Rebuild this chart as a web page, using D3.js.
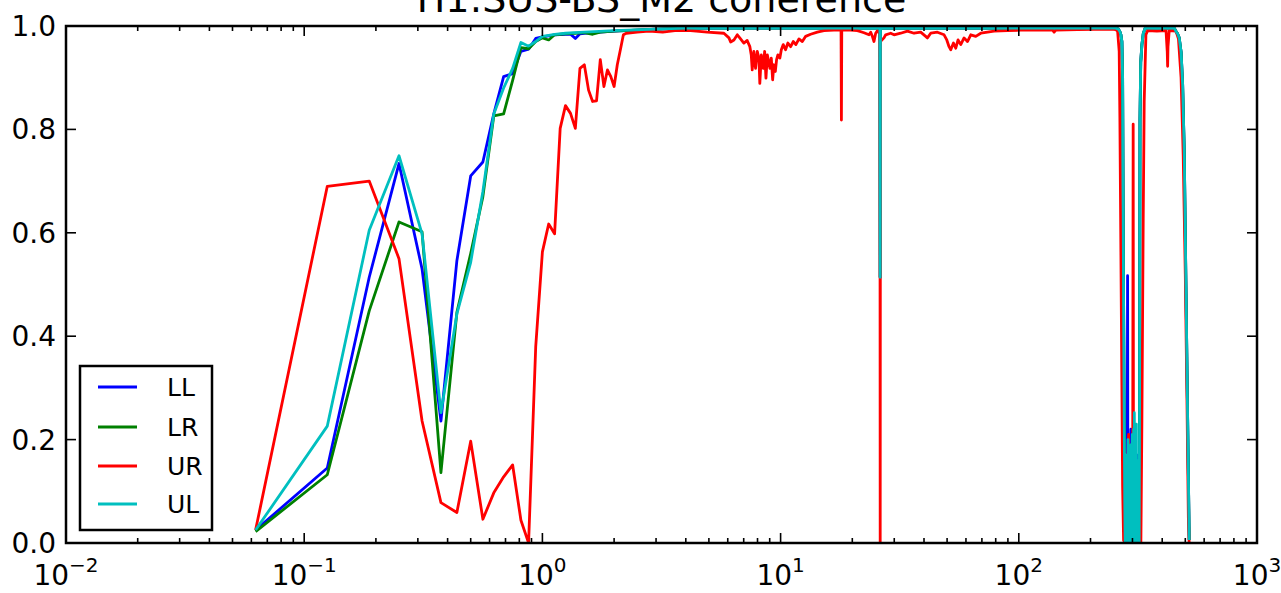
<!DOCTYPE html>
<html>
<head>
<meta charset="utf-8">
<script src="https://cdn.jsdelivr.net/npm/d3@7"></script>
<style>
  html, body { margin: 0; padding: 0; background: #ffffff; }
  svg { display: block; }
  text { font-family: "DejaVu Sans", sans-serif; fill: #000; }
</style>
</head>
<body>
<svg id="chart" width="1281" height="593"></svg>
<script>
// ---------- data (frequency in Hz, coherence) ----------
const titleText = "H1:SUS-BS_M2 coherence";
const seriesNames = ["LL", "LR", "UR", "UL"];
const seriesColors = ["#0000ff", "#008000", "#ff0000", "#00bfbf"];
const xTickExponents = [-2, -1, 0, 1, 2, 3];
const yTickValues = [0.0, 0.2, 0.4, 0.6, 0.8, 1.0];

const llData = [
  [0.0625,0.025],[0.125,0.145],[0.1875,0.514],[0.25,0.734],[0.3125,0.530],[0.375,0.236],
  [0.4375,0.546],[0.5,0.710],[0.5625,0.737],[0.625,0.83],[0.6875,0.902],[0.75,0.908],
  [0.8125,0.951],[0.875,0.955],[0.9375,0.976],[1.0,0.979],[1.0625,0.981],[1.125,0.983],
  [1.25,0.984],[1.3125,0.984],[1.375,0.976],[1.4375,0.985],[1.5,0.986],[1.75,0.988],
  [2.0,0.990],[2.5,0.992],[3.0,0.994],[4.0,0.996],
  [26.125,0.996],[26.1875,0.514],[26.25,0.996],
  [255,0.996],[262,0.994],[265.7,0.989],[268.3,0.983],[270.9,0.97],[272.8,0.9],[274.5,0.6],
  [276.5,0.3],[278.5,0.08],[279.7,0.0],[283,0.1],[285,0.02],[286.2,0.517],[287.2,0.0],
  [290,0.15],[292,0.03],[295.5,0.22],[298,0.05],[302,0.18],[305,0.0],[310,0.1],[314,0.0],
  [315.2,0.17],[316.2,0.0],[320.2,0.0],[321.5,0.3],[322.7,0.82],[325,0.93],[328.7,0.964],
  [333,0.985],[339.4,0.996],[449.3,0.996],[456.8,0.99],[464,0.985],[471.5,0.977],[480,0.95],
  [487.4,0.886],[495,0.757],[503.2,0.498],[511.5,0.239],[519.4,0.006]
];

const lrData = [
  [0.0625,0.022],[0.125,0.132],[0.1875,0.449],[0.25,0.621],[0.3125,0.602],[0.375,0.136],
  [0.4375,0.446],[0.5,0.56],[0.5625,0.67],[0.625,0.826],[0.6875,0.830],[0.75,0.895],
  [0.8125,0.958],[0.875,0.956],[0.9375,0.970],[1.0,0.977],[1.0625,0.973],[1.125,0.983],
  [1.25,0.985],[1.375,0.986],[1.5,0.987],[1.625,0.984],[1.75,0.988],[2.0,0.990],
  [3.0,0.994],[4.0,0.996],
  [26.125,0.996],[26.1875,0.514],[26.25,0.996],
  [255,0.996],[262,0.994],[265.7,0.989],[268.3,0.983],[270.9,0.97],[272.8,0.9],[274.5,0.6],
  [276.5,0.3],[278.5,0.08],[279.7,0.0],[285,0.12],[290,0.0],[296,0.15],[302,0.02],
  [308,0.14],[314,0.0],[320.2,0.0],[321.5,0.3],[322.7,0.82],[325,0.93],[328.7,0.964],
  [333,0.985],[339.4,0.996],[449.3,0.996],[456.8,0.99],[464,0.985],[471.5,0.977],[480,0.95],
  [487.4,0.886],[495,0.757],[503.2,0.498],[511.5,0.239],[519.4,0.006]
];

const urData = [
  [0.0625,0.025],[0.125,0.69],[0.1875,0.70],[0.25,0.55],[0.3125,0.236],[0.375,0.078],
  [0.4375,0.059],[0.5,0.197],[0.5625,0.046],[0.625,0.097],[0.6875,0.128],[0.75,0.151],
  [0.8125,0.044],[0.875,0.0],[0.9375,0.38],[1.0,0.563],[1.0625,0.617],[1.125,0.598],
  [1.1875,0.802],[1.25,0.846],[1.3125,0.831],[1.375,0.802],[1.4375,0.918],[1.5,0.925],
  [1.5625,0.876],[1.625,0.854],[1.6875,0.855],[1.75,0.935],[1.8125,0.883],[1.875,0.915],
  [1.9375,0.902],[2.0,0.883],[2.0625,0.925],[2.125,0.954],[2.1875,0.983],[2.25,0.986],
  [2.5,0.988],[2.8,0.990],[3.2,0.988],[3.6,0.991],[4.19,0.991],[4.92,0.988],[5.78,0.986],
  [6.07,0.977],[6.17,0.969],[6.37,0.973],[6.58,0.983],[6.79,0.975],[7.01,0.967],[7.24,0.972],
  [7.43,0.960],[7.53,0.944],[7.60,0.915],[7.72,0.951],[7.85,0.918],[7.98,0.951],[8.11,0.938],
  [8.18,0.889],[8.30,0.944],[8.46,0.918],[8.57,0.951],[8.68,0.899],[8.80,0.944],[8.91,0.931],
  [9.02,0.918],[9.14,0.938],[9.26,0.896],[9.37,0.925],[9.50,0.912],[9.62,0.935],[9.74,0.944],
  [9.93,0.938],[10.07,0.954],[10.26,0.964],[10.49,0.954],[10.73,0.967],[11.02,0.960],
  [11.30,0.970],[11.59,0.964],[11.94,0.975],[12.34,0.970],[12.74,0.980],[13.37,0.984],
  [14.26,0.988],[15.20,0.991],[16.75,0.992],[17.9375,0.992],[18.0,0.818],[18.0625,0.992],
  [19.68,0.992],[21.01,0.991],[22.39,0.987],[23.5,0.983],[23.89,0.988],[24.28,0.980],
  [24.66,0.970],[25.07,0.986],[25.48,0.991],[26.125,0.985],[26.1875,0.0],[26.25,0.97],
  [27.16,0.977],[27.62,0.983],[28.98,0.986],[29.94,0.983],[31.93,0.986],[34.07,0.990],
  [36.33,0.986],[38.74,0.988],[40.66,0.980],[41.34,0.977],[42.68,0.986],[45.53,0.988],
  [48.56,0.983],[49.85,0.973],[50.96,0.960],[51.81,0.954],[53.17,0.967],[54.37,0.957],
  [55.59,0.973],[57.06,0.964],[58.91,0.977],[60.88,0.970],[62.86,0.983],[65.98,0.980],
  [69.25,0.986],[73.88,0.988],[78.74,0.990],[89.65,0.991],[101.9,0.992],[138.6,0.992],
  [140.7,0.988],[143.0,0.992],[176.4,0.993],[243.6,0.994],[255.6,0.993],[259.9,0.990],
  [263.9,0.951],[265.7,0.821],[268.3,0.563],[270.9,0.304],[272.8,0.110],[275.4,0.005],
  [282,0.0],[285,0.08],[287,0.16],[289,0.21],[291,0.15],[293,0.17],[295.5,0.12],
  [298.3,0.14],[300.5,0.05],[302.1,0.81],[303,0.1],[305,0.02],[310,0.0],[315,0.03],
  [320,0.0],[325.5,0.0],[328.7,0.239],[332.9,0.627],[336.1,0.854],[341.7,0.983],
  [347.4,0.991],[380,0.990],[415,0.991],[420,0.95],[421.5,0.922],[423,0.96],[428,0.991],
  [456.8,0.99],[468,0.975],[480,0.9],[490,0.75],[500,0.52],[508,0.28],[515,0.05],[519,0.0]
];

const ulData = [
  [0.0625,0.025],[0.125,0.226],[0.1875,0.605],[0.25,0.749],[0.3125,0.598],[0.375,0.252],
  [0.4375,0.443],[0.5,0.543],[0.5625,0.68],[0.625,0.83],[0.6875,0.88],[0.75,0.918],
  [0.8125,0.968],[0.875,0.961],[0.9375,0.970],[1.0,0.980],[1.0625,0.982],[1.125,0.984],
  [1.25,0.986],[1.5,0.988],[2.0,0.991],[3.0,0.994],[4.0,0.996],
  [26.125,0.996],[26.1875,0.514],[26.25,0.996],
  [255,0.996],[262,0.994],[265.7,0.989],[268.3,0.983],[270.9,0.97],[272.8,0.9],[274.5,0.6],
  [276.5,0.3],[278.5,0.08],[279.7,0.0],
  [280.5,0.0],[281.5,0.17],[282.5,0.02],[283.5,0.12],[284.5,0.0],[285.5,0.155],[286.5,0.03],
  [287.5,0.2],[288.5,0.0],[289.5,0.14],[290.5,0.02],[291.5,0.18],[292.5,0.0],[293.5,0.1],
  [294.5,0.01],[295.5,0.19],[296.5,0.0],[297.5,0.13],[298.5,0.03],[299.5,0.21],[300.5,0.0],
  [301.5,0.15],[302.5,0.02],[303.5,0.22],[304.5,0.0],[305.5,0.252],[306.5,0.01],[307.5,0.2],
  [308.5,0.0],[309.5,0.17],[310.5,0.02],[311.5,0.23],[312.5,0.0],[313.5,0.14],[314.5,0.01],
  [315.5,0.16],[316.5,0.0],[317.5,0.12],[318.5,0.02],[319.5,0.09],[320.2,0.0],
  [321.5,0.3],[322.7,0.82],[325,0.93],[328.7,0.964],[333,0.985],[339.4,0.996],
  [449.3,0.996],[456.8,0.99],[464,0.985],[471.5,0.977],[480,0.95],[487.4,0.886],
  [495,0.757],[503.2,0.498],[511.5,0.239],[519.4,0.006]
];

const allSeries = [llData, lrData, urData, ulData];

// ---------- layout ----------
const plot = { left: 66, right: 1257, top: 26, bottom: 543 };
const svg = d3.select("#chart");

const x = d3.scaleLog().domain([0.01, 1000]).range([plot.left, plot.right]);
const y = d3.scaleLinear().domain([0, 1]).range([plot.bottom, plot.top]);

svg.append("defs").append("clipPath").attr("id", "clip")
  .append("rect")
  .attr("x", plot.left).attr("y", plot.top)
  .attr("width", plot.right - plot.left).attr("height", plot.bottom - plot.top);

// ---------- lines ----------
const line = d3.line().x(d => x(d[0])).y(d => y(d[1]));
const lines = svg.append("g").attr("clip-path", "url(#clip)");
allSeries.forEach((data, i) => {
  lines.append("path")
    .datum(data)
    .attr("d", line)
    .attr("fill", "none")
    .attr("stroke", seriesColors[i])
    .attr("stroke-width", 2.8)
    .attr("stroke-linejoin", "round")
    .attr("stroke-linecap", "butt");
});

// ---------- axes (ticks inside, on all four sides) ----------
const majorLen = 10, minorLen = 5;
const tickG = svg.append("g").attr("stroke", "#000").attr("stroke-width", 1.6);

const minorTicks = [];
xTickExponents.slice(0, -1).forEach(e => {
  for (let m = 2; m <= 9; m++) minorTicks.push(m * Math.pow(10, e));
});
const majorTicks = xTickExponents.map(e => Math.pow(10, e));

[[majorTicks, majorLen], [minorTicks, minorLen]].forEach(([vals, len]) => {
  tickG.selectAll(null).data(vals).enter().append("line")
    .attr("x1", d => x(d)).attr("x2", d => x(d))
    .attr("y1", plot.bottom).attr("y2", plot.bottom - len);
  tickG.selectAll(null).data(vals).enter().append("line")
    .attr("x1", d => x(d)).attr("x2", d => x(d))
    .attr("y1", plot.top).attr("y2", plot.top + len);
});
tickG.selectAll(null).data(yTickValues).enter().append("line")
  .attr("x1", plot.left).attr("x2", plot.left + majorLen)
  .attr("y1", d => y(d)).attr("y2", d => y(d));
tickG.selectAll(null).data(yTickValues).enter().append("line")
  .attr("x1", plot.right).attr("x2", plot.right - majorLen)
  .attr("y1", d => y(d)).attr("y2", d => y(d));

// frame
svg.append("rect")
  .attr("x", plot.left).attr("y", plot.top)
  .attr("width", plot.right - plot.left).attr("height", plot.bottom - plot.top)
  .attr("fill", "none").attr("stroke", "#000").attr("stroke-width", 2.5);

// y tick labels
svg.append("g").selectAll("text").data(yTickValues).enter().append("text")
  .attr("x", plot.left - 10)
  .attr("y", d => y(d))
  .attr("dy", "0.36em")
  .attr("text-anchor", "end")
  .style("font-size", "28px")
  .text(d => d.toFixed(1));

// x tick labels: 10^n
const xl = svg.append("g").selectAll("text").data(xTickExponents).enter().append("text")
  .attr("x", d => x(Math.pow(10, d)))
  .attr("y", 585)
  .attr("text-anchor", "middle")
  .style("font-size", "28px");
xl.append("tspan").text("10");
xl.append("tspan")
  .attr("dy", -13)
  .style("font-size", "20px")
  .text(d => (d < 0 ? "\u2212" + Math.abs(d) : String(d)));

// title (partly above the top edge, as in the reference)
svg.append("text")
  .attr("x", (plot.left + plot.right) / 2)
  .attr("y", 12)
  .attr("text-anchor", "middle")
  .style("font-size", "38px")
  .text(titleText);

// ---------- legend ----------
const leg = { x: 80, y: 366, w: 132, h: 164 };
const lg = svg.append("g");
lg.append("rect")
  .attr("x", leg.x).attr("y", leg.y).attr("width", leg.w).attr("height", leg.h)
  .attr("fill", "#fff").attr("stroke", "#000").attr("stroke-width", 2.5);
const rowY = [387, 427, 466, 504];
seriesNames.forEach((name, i) => {
  lg.append("line")
    .attr("x1", 98).attr("x2", 137)
    .attr("y1", rowY[i]).attr("y2", rowY[i])
    .attr("stroke", seriesColors[i]).attr("stroke-width", 2.8);
  lg.append("text")
    .attr("x", 167).attr("y", rowY[i]).attr("dy", "0.36em")
    .style("font-size", "25px")
    .text(name);
});
</script>
</body>
</html>
